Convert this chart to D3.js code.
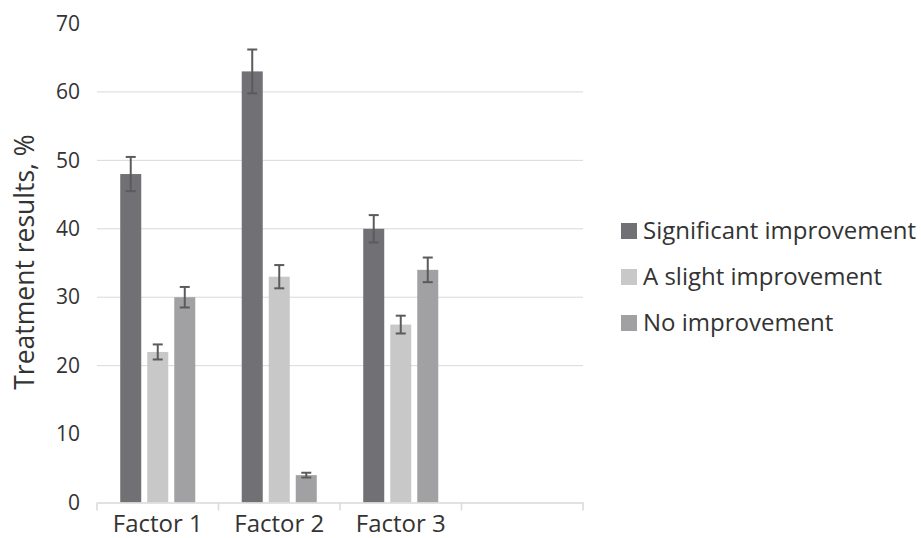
<!DOCTYPE html>
<html>
<head>
<meta charset="utf-8">
<script src="https://cdn.jsdelivr.net/npm/d3@7"></script>
<style>
  html, body { margin: 0; padding: 0; background: #fff; }
  svg { display: block; }
  text { font-family: "Open Sans", sans-serif; fill: #333; }
</style>
</head>
<body>
<svg id="chart" width="921" height="538"></svg>
<script>
const categories = ["Factor 1", "Factor 2", "Factor 3", ""];
const seriesNames = ["Significant improvement", "A slight improvement", "No improvement"];
const significant = [48, 63, 40];
const slight = [22, 33, 26];
const none = [30, 4, 34];
const significantErr = [2.5, 3.2, 2.0];
const slightErr = [1.1, 1.7, 1.3];
const noneErr = [1.5, 0.35, 1.8];
const yTicks = [0, 10, 20, 30, 40, 50, 60, 70];
const gridTicks = [20, 30, 40, 50, 60];
const colors = ["#717175", "#c8c8c9", "#a1a1a3"];

const values = [significant, slight, none];
const errs = [significantErr, slightErr, noneErr];

const svg = d3.select("#chart");
const margin = { left: 97, right: 338, top: 23.5, bottom: 35.5 };
const W = 921, H = 538;

const x = d3.scaleBand().domain(categories.map((c, i) => i)).range([margin.left, W - margin.right]).paddingInner(0).paddingOuter(0);
const xs = d3.scaleBand().domain([0, 1, 2]).range([0, x.bandwidth()]).paddingInner(0.222).paddingOuter(0.86);
const y = d3.scaleLinear().domain([0, 70]).range([H - margin.bottom, margin.top]);

// gridlines
svg.append("g").selectAll("line").data(gridTicks).join("line")
  .attr("x1", margin.left).attr("x2", W - margin.right)
  .attr("y1", d => y(d)).attr("y2", d => y(d))
  .attr("stroke", "#d9d9d9").attr("stroke-width", 1);

// bars
const groups = svg.append("g").selectAll("g").data(values).join("g")
  .attr("fill", (d, i) => colors[i]);
groups.each(function (vals, si) {
  d3.select(this).selectAll("rect").data(vals).join("rect")
    .attr("x", (d, ci) => x(ci) + xs(si))
    .attr("width", xs.bandwidth())
    .attr("y", d => y(d))
    .attr("height", d => y(0) - y(d));
});

// error bars
const eg = svg.append("g").attr("stroke", "#5b5b5e").attr("stroke-width", 2);
values.forEach((vals, si) => {
  vals.forEach((v, ci) => {
    const cx = x(ci) + xs(si) + xs.bandwidth() / 2;
    const e = errs[si][ci];
    eg.append("line").attr("x1", cx).attr("x2", cx).attr("y1", y(v + e)).attr("y2", y(v - e));
    eg.append("line").attr("x1", cx - 5).attr("x2", cx + 5).attr("y1", y(v + e)).attr("y2", y(v + e));
    eg.append("line").attr("x1", cx - 5).attr("x2", cx + 5).attr("y1", y(v - e)).attr("y2", y(v - e));
  });
});

// x axis
const xAxis = d3.axisBottom(x).tickSize(0).tickFormat(i => categories[i]);
const xg = svg.append("g").attr("transform", `translate(0,${y(0)})`).call(xAxis);
xg.select(".domain").attr("stroke", "#d9d9d9").attr("stroke-width", 1.5);
xg.selectAll("text").attr("font-size", 24).attr("dy", "1.12em").attr("fill", "#333").attr("font-family", "Open Sans");
// category boundary ticks
svg.append("g").selectAll("line").data(d3.range(categories.length + 1)).join("line")
  .attr("x1", i => margin.left + i * x.step()).attr("x2", i => margin.left + i * x.step())
  .attr("y1", y(0)).attr("y2", y(0) + 8)
  .attr("stroke", "#d9d9d9").attr("stroke-width", 1.5);

// y axis labels
const yAxis = d3.axisLeft(y).tickValues(yTicks).tickSize(0).tickPadding(17);
const yg = svg.append("g").attr("transform", `translate(${margin.left},0)`).call(yAxis);
yg.select(".domain").remove();
yg.selectAll("text").attr("font-size", 21).attr("fill", "#333").attr("font-family", "Open Sans");

// y title
svg.append("text")
  .attr("transform", `translate(34,262) rotate(-90)`)
  .attr("text-anchor", "middle")
  .attr("font-size", 26.5)
  .text("Treatment results, %");

// legend
const leg = svg.append("g").attr("transform", "translate(621,231)");
seriesNames.forEach((n, i) => {
  const g = leg.append("g").attr("transform", `translate(0,${i * 46})`);
  g.append("rect").attr("x", 0).attr("y", -8).attr("width", 16).attr("height", 16).attr("fill", colors[i]);
  g.append("text").attr("x", 22).attr("y", 0).attr("dy", "0.35em").attr("font-size", 24).text(n);
});
</script>
</body>
</html>
